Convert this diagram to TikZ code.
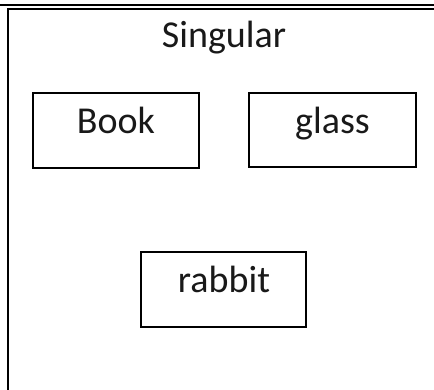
\documentclass[tikz,border=0pt]{standalone}
\usepackage{fontspec}
\setmainfont{Carlito}
\begin{document}
\begin{tikzpicture}[x=1pt,y=-1pt,
  box/.style={draw=black,line width=1.6pt,minimum width=166pt,minimum height=75pt,inner sep=0pt},
  lbl/.style={anchor=base,inner sep=0pt,font=\fontsize{38}{40}\selectfont,text=black!90},
  frame/.style={line width=1.5pt,black}]
\useasboundingbox (0,0) rectangle (434,390);
\coordinate (t1) at (0,5);
\coordinate (t2) at (434,5);
\coordinate (u1) at (8,8.8);
\coordinate (u2) at (434,8.8);
\coordinate (lb) at (8,390);
\draw[frame] (t1) -- (t2);
\draw[frame] (u2) -- (u1) -- (lb);
\node[lbl] (sing) at (224,47.5) {Singular};
\node[box] (book) at (116,130.5) {};
\node[lbl] (booktext) at (116,133.3) {Book};
\node[box,minimum width=167pt,minimum height=74pt] (glass) at (332.5,130) {};
\node[lbl] (glasstext) at (332.5,133.3) {glass};
\node[box,minimum width=165pt] (rabbit) at (223.5,289.5) {};
\node[lbl] (rabbittext) at (224,292.5) {rabbit};
\end{tikzpicture}
\end{document}
